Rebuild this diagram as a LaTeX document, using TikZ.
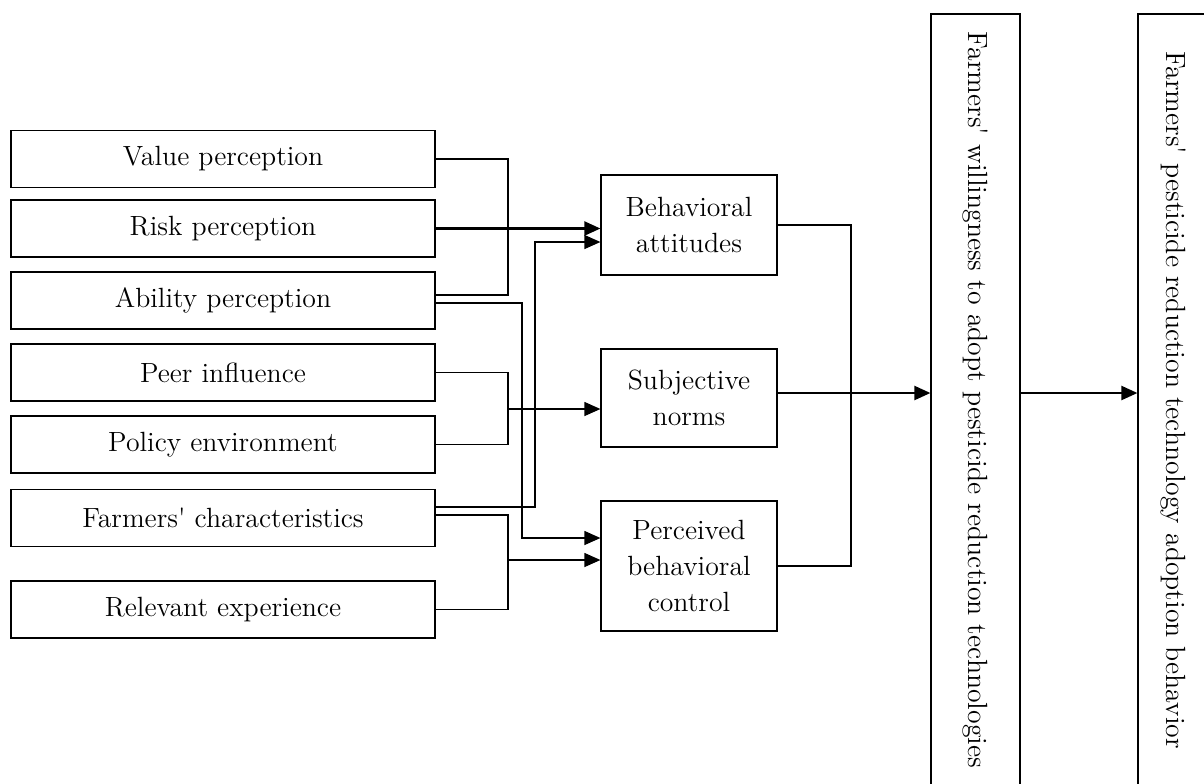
\documentclass[tikz,border=0pt]{standalone}
\usepackage{graphicx}
\usetikzlibrary{arrows.meta}

\begin{document}
\begin{tikzpicture}[x=0.5pt, y=-0.5pt, >={Triangle[length=8pt, width=7pt]},
  line width=0.6pt,
  every node/.style={font=\fontsize{13.9}{18}\selectfont, inner sep=0pt},
  factor/.style={draw, minimum width=212pt, minimum height=28.5pt},
  mediator/.style={draw, minimum width=88pt, align=center},
  outcome/.style={draw, minimum height=386pt},
  heavy/.style={line width=1.1pt}]
  \useasboundingbox (0,0) rectangle (1204,783);
  \clip (0,0) rectangle (1204,783);

  % States
  \node (value) at (223, 159) [factor] {Value perception};
  \node (risk) at (223, 228.5) [factor] {Risk perception};
  \node (ability) at (223, 300.5) [factor] {Ability perception};
  \node (peer) at (223, 372.5) [factor] {Peer influence};
  \node (policy) at (223, 444.5) [factor] {Policy environment};
  \node (chars) at (223, 518) [factor] {Farmers\textquotesingle{} characteristics};
  \node (relevant) at (223, 609.5) [factor] {Relevant experience};

  \node (attitudes) at (689, 225) [mediator, minimum height=50pt] {Behavioral\\attitudes};
  \node (subjective) at (689, 398) [mediator, minimum height=49pt] {Subjective\\norms};
  \node (perceived) at (689, 566) [mediator, minimum height=65pt] {Perceived\\behavioral\\control};

  \node (willing) at (975.5, 400) [outcome, minimum width=44.5pt] {\rotatebox{-90}{Farmers\textquotesingle{} willingness to adopt pesticide reduction technologies}};
  \node (adoption) at (1173, 400) [outcome, minimum width=35pt] {\rotatebox{-90}{Farmers\textquotesingle{} pesticide reduction technology adoption behavior}};

  % Junctions
  \coordinate (vj) at (508, 295);
  \coordinate (ab1) at (522, 303);
  \coordinate (ab2) at (522, 538);
  \coordinate (ch1) at (535, 507);
  \coordinate (ch2) at (535, 242);
  \coordinate (pj) at (508, 409);
  \coordinate (ch3) at (508, 515);
  \coordinate (rj) at (508, 560);
  \coordinate (mj) at (851, 393);

  % Edges
  \draw (value.east) -| (vj) -- (vj -| ability.east);
  \draw[heavy, ->] (risk.east) -- (risk.east -| attitudes.west);
  \draw[->] (ability.east |- ab1) -| (ab2) -- (ab2 -| perceived.west);
  \draw[->] (chars.east |- ch1) -| (ch2) -- (ch2 -| attitudes.west);

  \draw (peer.east) -| (pj) |- (policy.east);
  \draw[->] (pj) -- (pj -| subjective.west);

  \draw (chars.east |- ch3) -| (rj) |- (relevant.east);
  \draw[->] (rj) -- (rj -| perceived.west);

  \draw (attitudes.east) -| (mj) |- (perceived.east);
  \draw[heavy, ->] (mj -| subjective.east) -- (mj -| willing.west);
  \draw[heavy, ->] (mj -| willing.east) -- (mj -| adoption.west);
\end{tikzpicture}
\end{document}
